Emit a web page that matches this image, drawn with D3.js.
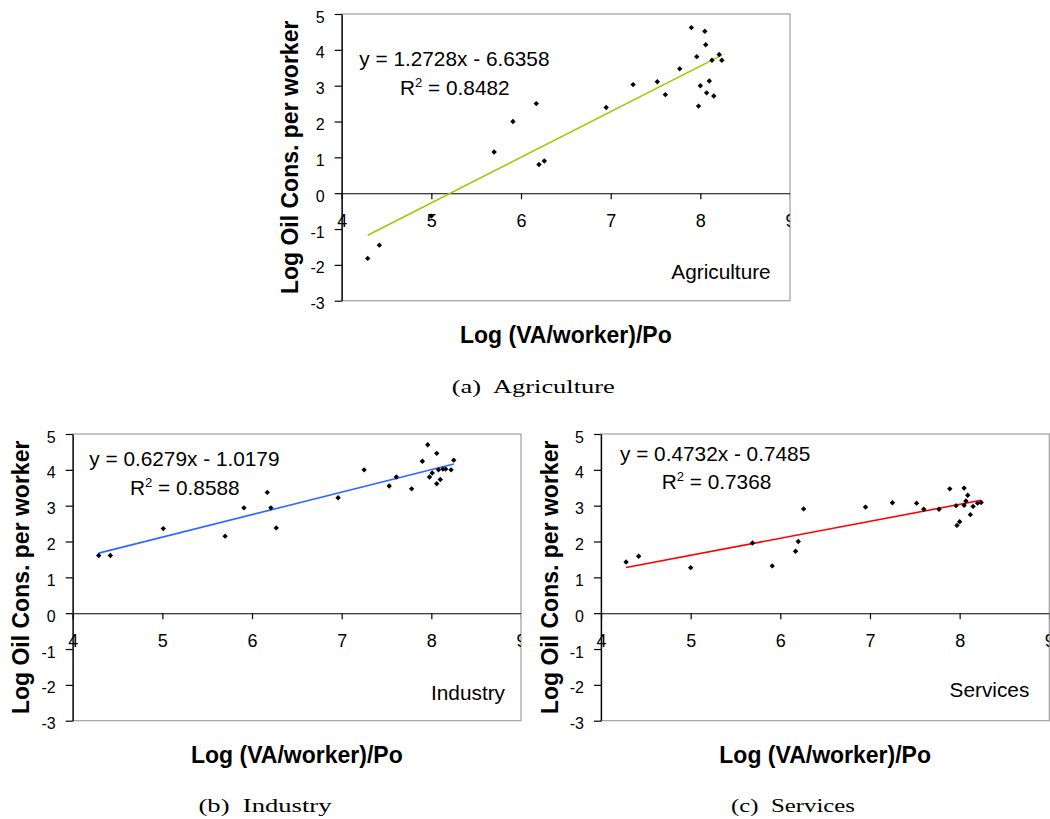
<!DOCTYPE html>
<html>
<head>
<meta charset="utf-8">
<script src="https://cdn.jsdelivr.net/npm/d3@7"></script>
<style>
  html, body { margin: 0; padding: 0; background: #fff; }
  svg { display: block; }
  text { font-family: "Liberation Sans", Arial, sans-serif; fill: #000; }
</style>
</head>
<body>
<svg id="fig" width="1050" height="819"></svg>
<script>
// Tick values shared by the three panels
const xTicks = [4, 5, 6, 7, 8, 9];
const yTicks = [5, 4, 3, 2, 1, 0, -1, -2, -3];

// Agriculture: log value added per worker vs log oil consumption per worker
const agriX = [4.29, 4.42, 5.00, 5.70, 5.91, 6.17, 6.20, 6.26, 6.95, 7.25, 7.52, 7.61, 7.77, 7.90, 7.96, 7.98, 8.00, 8.05, 8.06, 8.07, 8.10, 8.13, 8.15, 8.21, 8.24];
const agriY = [-1.82, -1.45, -0.64, 1.15, 2.00, 2.50, 0.80, 0.90, 2.39, 3.03, 3.11, 2.75, 3.47, 4.62, 3.81, 2.43, 3.00, 4.52, 4.14, 2.80, 3.13, 3.71, 2.71, 3.87, 3.71];

// Industry
const indX = [4.29, 4.42, 5.01, 5.70, 5.91, 6.17, 6.21, 6.27, 6.96, 7.25, 7.53, 7.61, 7.78, 7.90, 7.96, 7.98, 8.01, 8.06, 8.06, 8.08, 8.10, 8.13, 8.16, 8.22, 8.25];
const indY = [1.61, 1.61, 2.36, 2.15, 2.94, 3.37, 2.94, 2.38, 3.22, 4.00, 3.55, 3.80, 3.47, 4.24, 4.70, 3.80, 3.91, 4.46, 3.61, 4.00, 3.73, 4.02, 4.02, 4.00, 4.27];

// Services
const serX = [4.28, 4.42, 5.00, 5.69, 5.91, 6.17, 6.20, 6.26, 6.95, 7.25, 7.52, 7.60, 7.77, 7.89, 7.96, 7.97, 8.00, 8.05, 8.05, 8.07, 8.09, 8.12, 8.15, 8.20, 8.24];
const serY = [1.43, 1.59, 1.27, 1.96, 1.32, 1.73, 2.00, 2.91, 2.96, 3.08, 3.07, 2.90, 2.90, 3.47, 3.00, 2.45, 2.55, 3.49, 3.01, 3.13, 3.29, 2.75, 2.98, 3.07, 3.09];

// Linear trend lines: slope, intercept, R squared
const sectors  = ["Agriculture", "Industry", "Services"];
const captions = ["(a)\u00a0 Agriculture", "(b)\u00a0 Industry", "(c)\u00a0 Services"];
const slopes     = [1.2728, 0.6279, 0.4732];
const intercepts = [-6.6358, -1.0179, -0.7485];
const rSquared   = ["0.8482", "0.8588", "0.7368"];

const xTitle = "Log (VA/worker)/Po";
const yTitle = "Log Oil Cons. per worker";

// Panel layout (pixel geometry of each plot area and its annotations)
const layout = [
  { left: 341.7, right: 790,    top: 14,  bottom: 300.7, eq: [17.6, 52],   r2: [58.3, 81],   tag: [-19.3, -21.4], cap: [533.3, 393.3, 163], color: "#99cc00" },
  { left: 72.7,  right: 521,    top: 434, bottom: 720.7, eq: [16.6, 31.7], r2: [57.3, 61],   tag: [-16, -20.7],   cap: [265, 811.7, 133],   color: "#3366ff" },
  { left: 601,   right: 1049.3, top: 434, bottom: 720.7, eq: [19, 26.7],   r2: [60.7, 55.3], tag: [-20, -24],     cap: [793, 811.7, 124],   color: "#ff0000" }
];
const seriesX = [agriX, indX, serX];
const seriesY = [agriY, indY, serY];

const svg = d3.select("#fig");
svg.append("rect").attr("width", 1050).attr("height", 819).attr("fill", "#fff");

const diamond = r => `M0,${-r}L${r},0L0,${r}L${-r},0Z`;

layout.forEach((L, i) => {
  const g = svg.append("g");
  const x = d3.scaleLinear().domain([4, 9]).range([L.left, L.right]);
  const y = d3.scaleLinear().domain([-3, 5]).range([L.bottom, L.top]);

  // clip for x tick labels (the last one is cut by the plot border)
  const clipId = "clip" + i;
  svg.append("clipPath").attr("id", clipId)
    .append("rect").attr("x", 0).attr("y", 0).attr("width", L.right).attr("height", 819);

  // plot area frame
  g.append("rect")
    .attr("x", L.left).attr("y", L.top)
    .attr("width", L.right - L.left).attr("height", L.bottom - L.top)
    .attr("fill", "none").attr("stroke", "#a6a6a6").attr("stroke-width", 1.3);

  // x axis crossing at y = 0
  const gx = g.append("g")
    .attr("transform", `translate(0,${y(0)})`)
    .attr("clip-path", `url(#${clipId})`)
    .call(d3.axisBottom(x).tickValues(xTicks).tickSize(6).tickSizeOuter(0).tickFormat(d3.format("d")));
  gx.select(".domain").attr("stroke", "#000").attr("stroke-width", 1.3);
  gx.selectAll(".tick line").attr("stroke", "#000").attr("stroke-width", 1.2);
  gx.selectAll(".tick text")
    .attr("y", 34).attr("dy", 0)
    .style("font-family", "'Liberation Sans', Arial, sans-serif")
    .style("font-size", "18px").attr("fill", "#000");

  // y axis
  const gy = g.append("g")
    .attr("transform", `translate(${L.left},0)`)
    .call(d3.axisLeft(y).tickValues(yTicks).tickSize(7).tickSizeOuter(0).tickPadding(10).tickFormat(d3.format("d")));
  gy.select(".domain").attr("stroke", "#000").attr("stroke-width", 1.3);
  gy.selectAll(".tick line").attr("stroke", "#000").attr("stroke-width", 1.2);
  gy.selectAll(".tick text")
    .attr("dy", "0.5em")
    .style("font-family", "'Liberation Sans', Arial, sans-serif")
    .style("font-size", "16px").attr("fill", "#000")
    .text(d => d < 0 ? "-" + Math.abs(d) : d);

  // trend line over the data range
  const xs = seriesX[i], ys = seriesY[i];
  const [x0, x1] = d3.extent(xs);
  const fit = v => slopes[i] * v + intercepts[i];
  g.append("path")
    .datum([x0, x1])
    .attr("d", d3.line().x(d => x(d)).y(d => y(fit(d))))
    .attr("fill", "none").attr("stroke", L.color).attr("stroke-width", 1.6);

  // data points
  g.selectAll("path.pt")
    .data(xs.map((v, k) => [v, ys[k]]))
    .join("path")
    .attr("class", "pt")
    .attr("transform", d => `translate(${x(d[0])},${y(d[1])})`)
    .attr("d", diamond(2.7))
    .attr("fill", "#000");

  // regression equation
  const sign = intercepts[i] < 0 ? " - " : " + ";
  g.append("text")
    .attr("x", L.left + L.eq[0]).attr("y", L.top + L.eq[1])
    .style("font-size", "20.8px")
    .text(`y = ${slopes[i].toFixed(4)}x${sign}${Math.abs(intercepts[i]).toFixed(4)}`);
  const r2 = g.append("text")
    .attr("x", L.left + L.r2[0]).attr("y", L.top + L.r2[1])
    .style("font-size", "20.8px");
  r2.append("tspan").text("R");
  r2.append("tspan").attr("dy", -8).style("font-size", "13px").text("2");
  r2.append("tspan").attr("dy", 8).text(" = " + rSquared[i]);

  // sector label inside the plot
  g.append("text")
    .attr("x", L.right + L.tag[0]).attr("y", L.bottom + L.tag[1])
    .attr("text-anchor", "end")
    .style("font-size", "20.8px")
    .text(sectors[i]);

  // axis titles
  g.append("text")
    .attr("x", (L.left + L.right) / 2).attr("y", L.bottom + 42.6)
    .attr("text-anchor", "middle")
    .style("font-size", "23px").style("font-weight", "bold")
    .text(xTitle);
  g.append("text")
    .attr("transform", `translate(${L.left - 43.5},${(L.top + L.bottom) / 2}) rotate(-90)`)
    .attr("text-anchor", "middle")
    .style("font-size", "23px").style("font-weight", "bold")
    .text(yTitle);

  // sub-figure caption
  g.append("text")
    .attr("x", L.cap[0] - L.cap[2] / 2).attr("y", L.cap[1])
    .attr("textLength", L.cap[2]).attr("lengthAdjust", "spacingAndGlyphs")
    .style("font-family", "'Liberation Serif', 'Times New Roman', serif")
    .style("font-size", "18px")
    .text(captions[i]);
});
</script>
</body>
</html>
